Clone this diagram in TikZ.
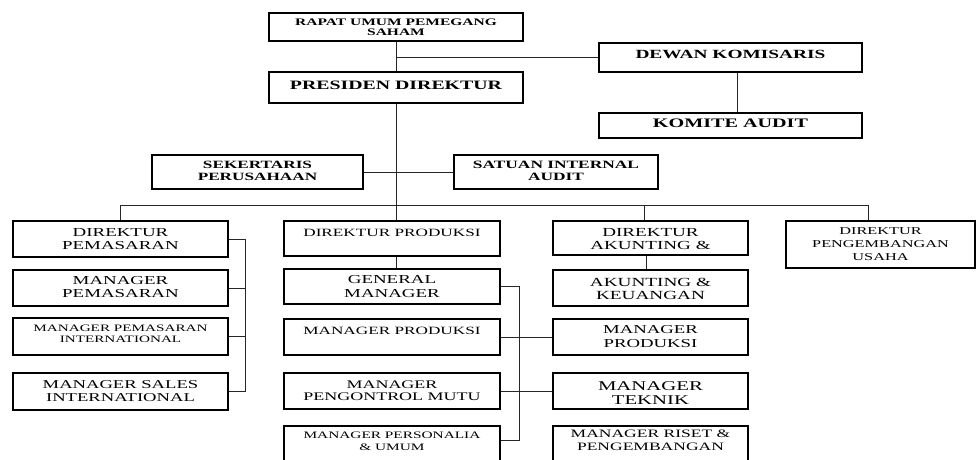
\documentclass[tikz,border=0pt]{standalone}
\usepackage{fontspec}
\setmainfont{Liberation Serif}[FakeStretch=1.55]
\usetikzlibrary{calc}

\newcommand\setfs[2]{\fontsize{#1}{#2}\selectfont}
% \orgbox{name}{x1}{y1}{x2}{y2}: framed box between two corners (y grows downwards)
\newcommand\orgbox[5]{%
  \pgfmathsetmacro\obw{#4-#2}%
  \pgfmathsetmacro\obh{#5-#3}%
  \pgfmathsetmacro\obx{(#4+#2)/2}%
  \pgfmathsetmacro\oby{(#5+#3)/2}%
  \node[box, minimum width=\obw pt, minimum height=\obh pt] (#1) at (\obx,\oby) {};%
}

\tikzset{
  box/.style={draw=black, line width=2.8pt, inner sep=0pt, fill=white},
  link/.style={draw=black!85, line width=0.9pt},
  lbl/.style={anchor=north, align=center, inner sep=0pt, text=black},
}

\begin{document}
\begin{tikzpicture}[x=1pt, y=-1pt]
\useasboundingbox (0,0) rectangle (976,459);

% ---- junction points of the connectors ----
\coordinate (jA) at (120,205);
\coordinate (jB) at (396,205);
\coordinate (jC) at (644,205);
\coordinate (jD) at (868,205);
\coordinate (kC) at (646,0);
\coordinate (br1) at (245,0);

% ---- boxes ----
\orgbox{rups}{269}{13}{523}{41}
\orgbox{pd}{269}{72}{523}{103}
\orgbox{dk}{599}{43}{862}{72}
\orgbox{ka}{599}{113}{862}{138}
\orgbox{sek}{152}{155}{363}{189}
\orgbox{sia}{454}{155}{658}{189}

\orgbox{dpem}{13}{221}{228}{257}
\orgbox{mpem}{13}{270}{228}{306}
\orgbox{mpi}{13}{318}{228}{355}
\orgbox{msi}{13}{373}{228}{410}

\orgbox{dprod}{284}{221}{500}{256}
\orgbox{gm}{284}{269}{500}{304}
\orgbox{mprod}{284}{319}{500}{355}
\orgbox{mpm}{284}{373}{500}{409}
\orgbox{mpu}{284}{426}{500}{470}

\orgbox{dak}{553}{221}{748}{255}
\orgbox{akk}{553}{270}{748}{306}
\orgbox{mprodb}{553}{319}{748}{355}
\orgbox{mt}{553}{373}{748}{409}
\orgbox{mrp}{553}{426}{748}{470}

\orgbox{dpu}{786}{221}{975}{268}

% ---- lines ----
\draw[link] (rups.south) -- (pd.north);
\draw[link] (dk.west) -- (dk.west -| rups.south);
\draw[link] ([xshift=7pt]dk.south) -- ([xshift=7pt]ka.north);
\draw[link] (pd.south) -- (jB);
\draw[link] (sek.east) -- (sia.west);
\draw[link] (jA) -- (jD);
\draw[link] (jA) -- (jA |- dpem.north);
\draw[link] (jB) -- (jB |- dprod.north);
\draw[link] (jC) -- (jC |- dak.north);
\draw[link] (jD) -- (jD |- dpu.north);

\draw[link] (msi.east) -- (msi.east -| br1) |- (dpem.east);
\draw[link] (mpem.east) -- (mpem.east -| br1);
\draw[link] (mpi.east) -- (mpi.east -| br1);

\draw[link] (jB |- dprod.south) -- (jB |- gm.north);
\draw[link] ([yshift=-16pt]mpu.north east) -- ++(18,0) |- (gm.east);
\draw[link] (mprod.east) -- (mprodb.west);
\draw[link] (mpm.east) -- (mt.west);

\draw[link] (kC |- dak.south) -- (kC |- akk.north);

% ---- labels ----
\node[lbl, font=\bfseries\setfs{10}{10}] at ([yshift=-7.5pt]rups.north) {RAPAT UMUM PEMEGANG\\SAHAM};
\node[lbl, font=\bfseries\setfs{12.8}{14}] at ([yshift=-10pt]pd.north) {PRESIDEN DIREKTUR};
\node[lbl, font=\bfseries\setfs{12.5}{14}] at ([yshift=-8pt]dk.north) {DEWAN KOMISARIS};
\node[lbl, font=\bfseries\setfs{13}{14}] at ([yshift=-7pt]ka.north) {KOMITE AUDIT};
\node[lbl, font=\bfseries\setfs{11.1}{12.5}] at ([yshift=-7pt]sek.north) {SEKERTARIS\\PERUSAHAAN};
\node[lbl, font=\bfseries\setfs{11.2}{12.5}] at ([yshift=-7pt]sia.north) {SATUAN INTERNAL\\AUDIT};

\node[lbl, font=\setfs{12.2}{13}] at ([yshift=-9pt]dpem.north) {DIREKTUR\\PEMASARAN};
\node[lbl, font=\setfs{12.2}{13}] at ([yshift=-8pt]mpem.north) {MANAGER\\PEMASARAN};
\node[lbl, font=\setfs{9.8}{11}] at ([yshift=-8pt]mpi.north) {MANAGER PEMASARAN\\INTERNATIONAL};
\node[lbl, font=\setfs{12}{13}] at ([yshift=-9pt]msi.north) {MANAGER SALES\\INTERNATIONAL};

\node[lbl, font=\setfs{11.1}{13}] at ([yshift=-9pt]dprod.north) {DIREKTUR PRODUKSI};
\node[lbl, font=\setfs{12.2}{13.5}] at ([yshift=-8pt]gm.north) {GENERAL\\MANAGER};
\node[lbl, font=\setfs{11.1}{13}] at ([yshift=-9pt]mprod.north) {MANAGER PRODUKSI};
\node[lbl, font=\setfs{11.6}{12}] at ([yshift=-9pt]mpm.north) {MANAGER\\PENGONTROL MUTU};
\node[lbl, font=\setfs{9.9}{12}] at ([yshift=-7pt]mpu.north) {MANAGER PERSONALIA\\\&{} UMUM};

\node[lbl, font=\setfs{12.3}{13}] at ([yshift=-9pt]dak.north) {DIREKTUR\\AKUNTING \&};
\node[lbl, font=\setfs{12.4}{13}] at ([yshift=-9pt]akk.north) {AKUNTING \&\\KEUANGAN};
\node[lbl, font=\setfs{12.1}{14}] at ([yshift=-8pt]mprodb.north) {MANAGER\\PRODUKSI};
\node[lbl, font=\setfs{13.4}{14}] at ([yshift=-10pt]mt.north) {MANAGER\\TEKNIK};
\node[lbl, font=\setfs{11.3}{13.5}] at ([yshift=-5pt]mrp.north) {MANAGER RISET \&\\PENGEMBANGAN};

\node[lbl, font=\setfs{10.5}{13}] at ([yshift=-8pt]dpu.north) {DIREKTUR\\PENGEMBANGAN\\USAHA};
\end{tikzpicture}
\end{document}
